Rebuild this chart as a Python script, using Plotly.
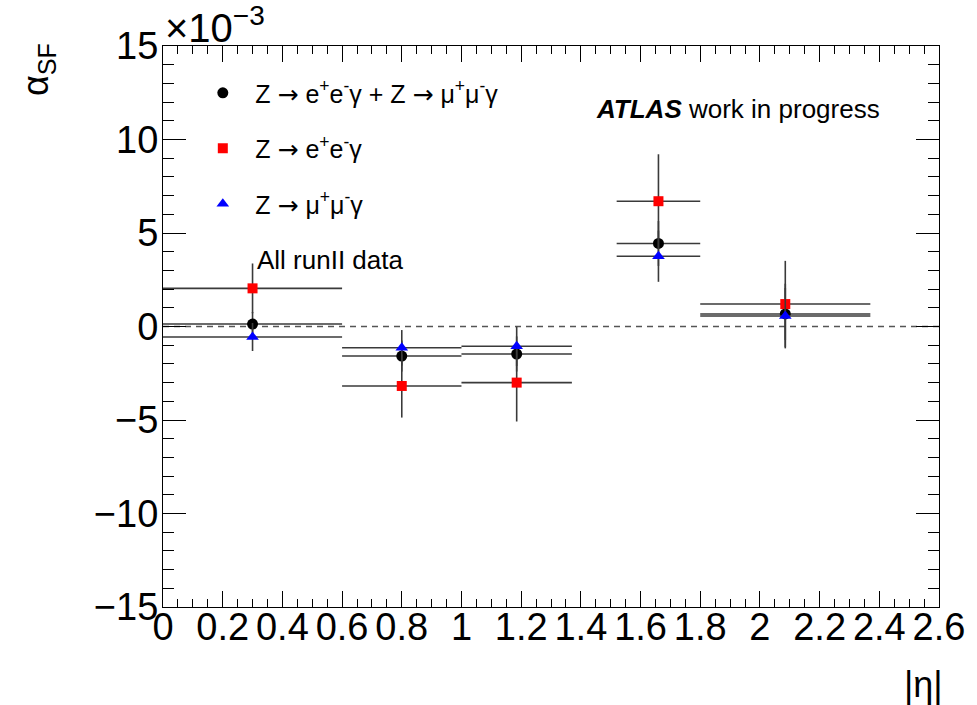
import plotly.graph_objects as go

# |eta| bins (centres and half-widths)
eta_centre = [0.3, 0.8, 1.185, 1.66, 2.085]
eta_halfwidth = [0.3, 0.2, 0.185, 0.14, 0.285]

# alpha_SF in units of 1e-3
comb_val = [0.13, -1.58, -1.47, 4.44, 0.67]
comb_err = [0.65, 0.83, 0.94, 1.20, 1.39]
ee_val = [2.04, -3.18, -3.00, 6.70, 1.20]
ee_err = [1.33, 1.69, 2.08, 2.51, 2.31]
mm_val = [-0.56, -1.14, -1.06, 3.76, 0.56]
mm_err = [0.75, 0.95, 1.05, 1.37, 1.73]

x_ticks = [0, 0.2, 0.4, 0.6, 0.8, 1.0, 1.2, 1.4, 1.6, 1.8, 2.0, 2.2, 2.4, 2.6]
x_ticktext = ["0", "0.2", "0.4", "0.6", "0.8", "1", "1.2", "1.4", "1.6", "1.8", "2", "2.2", "2.4", "2.6"]
y_ticks = [-15, -10, -5, 0, 5, 10, 15]
y_ticktext = ["\u221215", "\u221210", "\u22125", "0", "5", "10", "15"]

FONT = "Liberation Sans, Arial, Helvetica, sans-serif"
ERR_COLOR = "#3a3a3a"
ARROW = '<span style="font-family:DejaVu Sans">\u2192</span>'

series = [
    (f"\u2002Z {ARROW} e<sup>+</sup>e<sup>-</sup>\u03b3 + Z {ARROW} \u03bc<sup>+</sup>\u03bc<sup>-</sup>\u03b3",
     comb_val, comb_err, "black", "circle", 11),
    (f"\u2002Z {ARROW} e<sup>+</sup>e<sup>-</sup>\u03b3", ee_val, ee_err, "#ff0000", "square", 10),
    (f"\u2002Z {ARROW} \u03bc<sup>+</sup>\u03bc<sup>-</sup>\u03b3", mm_val, mm_err, "#0000ff", "triangle-up", 11),
]

fig = go.Figure()
for i, (name, vals, errs, col, sym, size) in enumerate(series):
    fig.add_trace(go.Scatter(
        x=eta_centre, y=vals, mode="markers", name=name,
        legendgroup=f"g{i}", legendrank=i + 1,
        marker=dict(color=col, symbol=sym, size=size, line=dict(width=0)),
        error_x=dict(type="data", array=eta_halfwidth, symmetric=True,
                     width=0, thickness=1.6, color=ERR_COLOR),
        error_y=dict(type="data", array=errs, symmetric=True,
                     width=0, thickness=1.6, color=ERR_COLOR),
    ))

# dashed reference line at zero
fig.add_shape(type="line", xref="paper", x0=0, x1=1, yref="y", y0=0, y1=0,
              line=dict(color="#555555", width=1.5, dash="6px,5px"), layer="below")

axis_common = dict(
    showline=True, linecolor="black", linewidth=1.2, mirror="ticks",
    ticks="inside", tickcolor="black", tickwidth=1.2,
    showgrid=False, zeroline=False,
    tickfont=dict(family=FONT, size=38, color="black"),
)

fig.update_xaxes(
    range=[0, 2.6], tickvals=x_ticks, ticktext=x_ticktext, tickangle=0,
    ticklen=16, ticklabelstandoff=-14,
    minor=dict(dtick=0.05, ticks="inside", ticklen=8, tickcolor="black", tickwidth=1.2, showgrid=False),
    **axis_common,
)
fig.update_yaxes(
    range=[-15, 15], tickvals=y_ticks, ticktext=y_ticktext,
    ticklen=23, ticklabelstandoff=-4,
    minor=dict(dtick=1, ticks="inside", ticklen=11, tickcolor="black", tickwidth=1.2, showgrid=False),
    **axis_common,
)

annotations = [
    dict(text="\u00d710<sup>\u22123</sup>", xref="paper", yref="paper", x=0, y=1,
         xanchor="left", yanchor="bottom", yshift=-6, showarrow=False,
         font=dict(family=FONT, size=40, color="black")),
    dict(text="\u03b1<sub>SF</sub>", xref="paper", yref="paper", x=0, y=1,
         xshift=-125, yshift=-24, xanchor="center", yanchor="middle",
         textangle=-90, showarrow=False,
         font=dict(family=FONT, size=36, color="black")),
    dict(text="|\u03b7|", xref="paper", yref="paper", x=1, y=0,
         xanchor="right", yanchor="middle", xshift=6, yshift=-77, showarrow=False,
         font=dict(family=FONT, size=36, color="black")),
    dict(text="All runII data", xref="paper", yref="paper", x=0.119, y=0.6185,
         xanchor="left", yanchor="middle", showarrow=False,
         font=dict(family=FONT, size=26, color="black")),
    dict(text="<b><i>ATLAS</i></b> work in progress", xref="paper", yref="paper",
         x=0.556, y=0.888, xanchor="left", yanchor="middle", showarrow=False,
         font=dict(family=FONT, size=26, color="black")),
]

fig.update_layout(
    width=977, height=705,
    margin=dict(l=163, r=34, t=46, b=98),
    paper_bgcolor="white", plot_bgcolor="white",
    font=dict(family=FONT, color="black"),
    annotations=annotations,
    showlegend=True,
    legend=dict(
        x=0.0513, y=0.957, xanchor="left", yanchor="top",
        bgcolor="rgba(0,0,0,0)", borderwidth=0,
        font=dict(family=FONT, size=25, color="black"),
        tracegroupgap=20, itemsizing="trace",
    ),
)

fig.write_html("out.html")
